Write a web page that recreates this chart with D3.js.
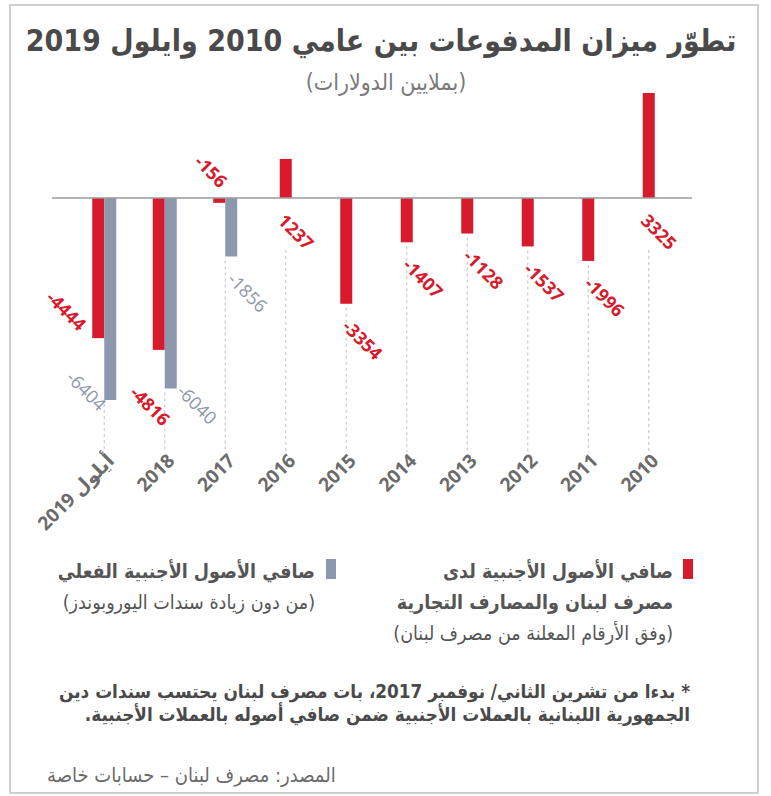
<!DOCTYPE html>
<html>
<head>
<meta charset="utf-8">
<script src="https://cdn.jsdelivr.net/npm/d3@7"></script>
<style>
  body { margin: 0; background: #fff; }
  svg { display: block; }
</style>
</head>
<body>
<div id="chart"></div>
<script>
// data (millions of dollars)
const years = ["أيلول 2019", "2018", "2017", "2016", "2015", "2014", "2013", "2012", "2011", "2010"];
const bdlAssets = [-4444, -4816, -156, 1237, -3354, -1407, -1128, -1537, -1996, 3325];
const actualAssets = [-6404, -6040, -1856, null, null, null, null, null, null, null];

const titleText = "تطوّر ميزان المدفوعات بين عامي 2010 وايلول 2019";
const subtitleText = "(بملايين الدولارات)";
const legendRed = ["صافي الأصول الأجنبية لدى", "مصرف لبنان والمصارف التجارية", "(وفق الأرقام المعلنة من مصرف لبنان)"];
const legendGray = ["صافي الأصول الأجنبية الفعلي", "(من دون زيادة سندات اليوروبوندز)"];
const noteLines = ["* بدءا من تشرين الثاني/ نوفمبر 2017، بات مصرف لبنان يحتسب سندات دين",
                   "الجمهورية اللبنانية بالعملات الأجنبية ضمن صافي أصوله بالعملات الأجنبية."];
const sourceText = "المصدر: مصرف لبنان – حسابات خاصة";

const W = 771, H = 796;
const red = "#d71a2c", gray = "#8d97ad";
const arFont = "'DejaVu Sans Condensed', 'DejaVu Sans', sans-serif";
const numFont = "'Open Sans', 'DejaVu Sans', sans-serif";

const svg = d3.select("#chart").append("svg")
    .attr("width", W).attr("height", H)
    .attr("viewBox", `0 0 ${W} ${H}`);

// frame
svg.append("rect")
    .attr("x", 10).attr("y", 5).attr("width", 748).attr("height", 788)
    .attr("fill", "#fff").attr("stroke", "#cfcfcf").attr("stroke-width", 2);

// title + subtitle
svg.append("text")
    .attr("x", 381).attr("y", 51)
    .attr("text-anchor", "middle")
    .attr("font-family", arFont).attr("font-weight", "bold").attr("font-size", 30)
    .attr("fill", "#4a4a4a")
    .attr("direction", "rtl")
    .text(titleText);

svg.append("text")
    .attr("x", 386).attr("y", 90)
    .attr("text-anchor", "middle")
    .attr("font-family", arFont).attr("font-size", 23)
    .attr("fill", "#7a7a7a")
    .attr("direction", "rtl")
    .text(subtitleText);

/* scales */
const x = d3.scaleBand()
    .domain(years)
    .range([74, 679]);

const y = d3.scaleLinear()
    .domain([-6404, 3325])
    .range([400, 93]);

const barW = 12;
const axisBottom = 452;

let rows = years.map((yr, i) => ({
    year: yr,
    bdl: bdlAssets[i],
    actual: actualAssets[i],
    cx: x(yr) + x.bandwidth() / 2
}));

// dashed guides from the bars down to the year labels
svg.append("g")
    .selectAll("line")
    .data(rows)
    .join("line")
    .attr("x1", d => d.cx).attr("x2", d => d.cx)
    .attr("y1", d => {
        let low = d3.min([d.bdl, d.actual].filter(v => v !== null));
        return low > 0 ? y(0) + 52 : y(low) + 4;
    })
    .attr("y2", axisBottom)
    .attr("stroke", "#cccccc")
    .attr("stroke-width", 1.2)
    .attr("stroke-dasharray", "3,3");

// bar marks, one entry per drawn bar
let marks = [];
rows.forEach(d => {
    let grouped = d.actual !== null;
    marks.push({year: d.year, series: "bdl", value: d.bdl, cx: d.cx,
                x0: grouped ? d.cx - barW : d.cx - barW / 2});
    if (grouped) {
        marks.push({year: d.year, series: "actual", value: d.actual, cx: d.cx, x0: d.cx});
    }
});

svg.append("g")
    .selectAll("rect")
    .data(marks)
    .join("rect")
    .attr("x", d => d.x0)
    .attr("width", barW)
    .attr("y", d => Math.min(y(0), y(d.value)))
    .attr("height", d => Math.abs(y(d.value) - y(0)))
    .attr("fill", d => d.series === "bdl" ? red : gray);

// zero line
svg.append("line")
    .attr("x1", 52).attr("x2", 692)
    .attr("y1", y(0)).attr("y2", y(0))
    .attr("stroke", "#9a9a9a").attr("stroke-width", 1.5);

// value labels, rotated 45deg. A few crowded ones get moved by hand.
const crowded = {
    "أيلول 2019|bdl": "left",
    "أيلول 2019|actual": "leftBelow",
    "2018|bdl": "farBelow",
    "2018|actual": "right",
    "2017|bdl": "above"
};
let labelSpot = d => {
    let mode = crowded[d.year + "|" + d.series] || (d.value > 0 ? "zero" : "below");
    let x1 = d.x0 + barW;
    switch (mode) {
        case "left":      return {x: d.x0 - 14, y: y(d.value) - 6, anchor: "end"};
        case "leftBelow": return {x: d.x0 - 6, y: y(d.value) + 12, anchor: "end"};
        case "farBelow":  return {x: d.x0 - 24, y: y(d.value) + 44, anchor: "start"};
        case "right":     return {x: x1 - 1, y: y(d.value) + 4, anchor: "start"};
        case "above":     return {x: d.x0 + 6, y: y(0) - 9, anchor: "end"};
        case "zero":      return {x: d.x0 - 3, y: y(0) + 24, anchor: "start"};
        default:          return {x: d.x0 + 1, y: y(d.value) + 24, anchor: "start"};
    }
};

svg.append("g")
    .selectAll("text")
    .data(marks)
    .join("text")
    .each(function (d) {
        let p = labelSpot(d);
        d3.select(this)
            .attr("transform", `translate(${p.x},${p.y}) rotate(45)`)
            .attr("text-anchor", p.anchor);
    })
    .attr("font-family", numFont)
    .attr("font-size", 18)
    .attr("font-weight", d => d.series === "bdl" ? 700 : 400)
    .attr("fill", d => d.series === "bdl" ? red : gray)
    .text(d => d.value);

// year labels
svg.append("g")
    .selectAll("text")
    .data(rows)
    .join("text")
    .attr("transform", d => `translate(${d.cx + 11},${axisBottom + 10}) rotate(-45)`)
    .attr("text-anchor", "end")
    .attr("font-family", numFont)
    .attr("font-size", 19)
    .attr("font-weight", 700)
    .attr("fill", "#6b6b6b")
    .text(d => d.year);

/* legend */
let legend = svg.append("g").attr("font-family", arFont).attr("fill", "#555");

legend.append("rect").attr("x", 683).attr("y", 559).attr("width", 10).attr("height", 20).attr("fill", red);
legend.selectAll("text.red")
    .data(legendRed)
    .join("text")
    .attr("class", "red")
    .attr("x", 673).attr("y", (d, i) => 578 + i * 31)
    .attr("direction", "rtl")
    .attr("text-anchor", "start")
    .attr("font-size", 19.5)
    .attr("font-weight", (d, i) => i < 2 ? "bold" : "normal")
    .text(d => d);

legend.append("rect").attr("x", 326).attr("y", 559).attr("width", 10).attr("height", 20).attr("fill", gray);
legend.selectAll("text.gray")
    .data(legendGray)
    .join("text")
    .attr("class", "gray")
    .attr("x", 315).attr("y", (d, i) => 578 + i * 31)
    .attr("direction", "rtl")
    .attr("text-anchor", "start")
    .attr("font-size", 19.5)
    .attr("font-weight", (d, i) => i < 1 ? "bold" : "normal")
    .text(d => d);

// footnote
svg.append("g")
    .selectAll("text")
    .data(noteLines)
    .join("text")
    .attr("x", 690).attr("y", (d, i) => 698 + i * 23)
    .attr("direction", "rtl")
    .attr("text-anchor", "start")
    .attr("font-family", arFont)
    .attr("font-size", 18.8)
    .attr("font-weight", "bold")
    .attr("fill", "#4a4a4a")
    .text(d => d);

svg.append("text")
    .attr("x", 47).attr("y", 782)
    .attr("direction", "rtl")
    .attr("text-anchor", "end")
    .attr("font-family", arFont)
    .attr("font-size", 20)
    .attr("fill", "#6a6a6a")
    .text(sourceText);
</script>
</body>
</html>
